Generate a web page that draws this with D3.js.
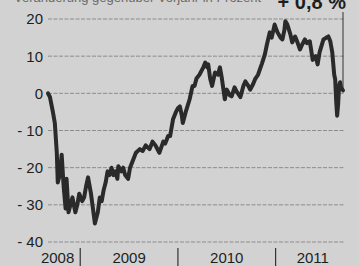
<!DOCTYPE html>
<html>
<head>
<meta charset="utf-8">
<script src="https://cdn.jsdelivr.net/npm/d3@7"></script>
<style>
  body { margin: 0; background: #d2d2d2; }
  svg { display: block; font-family: "Liberation Sans", Arial, sans-serif; }
</style>
</head>
<body>
<div id="chart"></div>
<script>
// time as decimal years, value in percent
const times = [
  2008.67, 2008.69, 2008.72, 2008.74, 2008.76, 2008.77, 2008.79, 2008.81, 2008.83, 2008.85,
  2008.86, 2008.88, 2008.90, 2008.92, 2008.95, 2008.97, 2008.99, 2009.02, 2009.04, 2009.06,
  2009.08, 2009.11, 2009.13, 2009.15, 2009.18, 2009.20, 2009.22, 2009.24, 2009.26, 2009.28,
  2009.30, 2009.32, 2009.34, 2009.36, 2009.38, 2009.39, 2009.42, 2009.44, 2009.46, 2009.49,
  2009.51, 2009.54, 2009.57, 2009.61, 2009.64, 2009.67, 2009.71, 2009.74, 2009.77, 2009.81,
  2009.85, 2009.87, 2009.90, 2009.92, 2009.95, 2009.98, 2010.00, 2010.02, 2010.04, 2010.05,
  2010.08, 2010.12, 2010.15, 2010.17, 2010.19, 2010.22, 2010.26, 2010.28, 2010.30, 2010.31,
  2010.33, 2010.35, 2010.38, 2010.41, 2010.43, 2010.45, 2010.48, 2010.50, 2010.51, 2010.53,
  2010.55, 2010.58, 2010.60, 2010.64, 2010.67, 2010.69, 2010.72, 2010.74, 2010.77, 2010.79,
  2010.82, 2010.84, 2010.86, 2010.89, 2010.91, 2010.94, 2010.96, 2010.99, 2011.01, 2011.02,
  2011.05, 2011.07, 2011.09, 2011.10, 2011.12, 2011.13, 2011.15, 2011.17, 2011.20, 2011.22,
  2011.25, 2011.27, 2011.30, 2011.32, 2011.35, 2011.38, 2011.41, 2011.43, 2011.45, 2011.49,
  2011.52, 2011.54, 2011.56, 2011.58, 2011.60, 2011.61, 2011.62, 2011.63, 2011.64, 2011.65,
  2011.66, 2011.67, 2011.69
];
const values = [
  0, -1, -5, -8, -16, -24, -22, -16.5, -25, -31,
  -23, -32, -30, -28, -32, -30, -27, -29, -28, -25,
  -22.6, -27, -31, -35, -32, -28, -29, -26, -24, -21,
  -22, -20, -22, -21, -23, -19.6, -21, -20, -22, -23,
  -20, -18, -16, -15, -15.5, -14, -15, -13, -14, -16,
  -13, -13.5, -11.5, -11.5, -7, -5, -4, -3.5, -6, -8,
  -5, -1.6, 2, 2, 4, 5, 7, 8.3, 7, 7.8,
  4, 2, 5.6, 5, 7, 4, -1.6, 1, 0.5, -0.5,
  -0.8, 1.6, 0.5, -1, 2, 3.2, 2, 1, 2.5, 3.8,
  5, 6.5, 8, 10.5, 13, 16.4, 15, 18.5, 17, 16.4,
  15, 14.5, 17, 19.4, 18.5, 17.7, 16, 13.7, 15.3, 14,
  11.8, 13, 14.5, 13.5, 14, 9, 10, 7.8, 11, 14.5,
  15, 15.3, 14, 11, 5, 3.8, -2, -6, -3, 2,
  3, 1.5, 0.8
];
const yTicks = [20, 10, 0, -10, -20, -30, -40];
const years = [2008, 2009, 2010, 2011];
const lastLabel = "+ 0,8 %";
const titleText = "Veränderung gegenüber Vorjahr in Prozent";

const width = 359, height = 266;
const margin = { top: 19, right: 16, bottom: 24, left: 48 };

const svg = d3.select('#chart').append('svg')
    .attr('width', width)
    .attr('height', height);

svg.append('rect')
    .attr('width', width)
    .attr('height', height)
    .attr('fill', '#d2d2d2');

const x = d3.scaleLinear()
    .domain([times[0], times[times.length - 1]])
    .range([margin.left, width - margin.right]);

const y = d3.scaleLinear()
    .domain([-40, 20])
    .range([height - margin.bottom, margin.top]);

// heading, cut off at the top edge as in the print
svg.append('text')
    .attr('x', 14)
    .attr('y', 2)
    .attr('font-size', 13)
    .attr('fill', '#6a6a6a')
    .text(titleText);

// grid lines
svg.append('g')
    .selectAll('line')
    .data(yTicks)
    .join('line')
    .attr('x1', margin.left)
    .attr('x2', width - margin.right + 2)
    .attr('y1', d => y(d))
    .attr('y2', d => y(d))
    .attr('stroke', '#8c8c8c')
    .attr('stroke-width', 1)
    .attr('stroke-dasharray', '4,1.5');

// y labels
svg.append('g')
    .selectAll('text')
    .data(yTicks)
    .join('text')
    .attr('x', margin.left - 5)
    .attr('y', d => y(d))
    .attr('dy', '0.36em')
    .attr('text-anchor', 'end')
    .attr('font-size', 15)
    .attr('fill', '#1e1e1e')
    .text(d => d < 0 ? '- ' + Math.abs(d) : d);

// year dividers and labels
const xLo = x.range()[0] - 13, xHi = x.range()[1] + 7;
svg.append('g')
    .selectAll('line')
    .data(years.slice(1))
    .join('line')
    .attr('x1', d => x(d))
    .attr('x2', d => x(d))
    .attr('y1', height - 18)
    .attr('y2', height)
    .attr('stroke', '#333')
    .attr('stroke-width', 1.2);

svg.append('g')
    .selectAll('text')
    .data(years)
    .join('text')
    .attr('x', d => (Math.max(xLo, x(d)) + Math.min(xHi, x(d + 1))) / 2)
    .attr('y', height - 3)
    .attr('text-anchor', 'middle')
    .attr('font-size', 15)
    .attr('fill', '#1e1e1e')
    .text(d => d);

// callout line to last value
const lastX = x(times[times.length - 1]);
svg.append('line')
    .attr('x1', lastX)
    .attr('x2', lastX)
    .attr('y1', 12)
    .attr('y2', y(values[values.length - 1]))
    .attr('stroke', '#333')
    .attr('stroke-width', 1);

svg.append('text')
    .attr('x', lastX + 3)
    .attr('y', 9)
    .attr('text-anchor', 'end')
    .attr('font-size', 20)
    .attr('font-weight', 'bold')
    .attr('fill', '#1e1e1e')
    .text(lastLabel);

// data line
const line = d3.line()
    .x((d, i) => x(times[i]))
    .y(d => y(d));

svg.append('path')
    .datum(values)
    .attr('fill', 'none')
    .attr('stroke', '#2a2a2a')
    .attr('stroke-width', 4)
    .attr('stroke-linejoin', 'round')
    .attr('stroke-linecap', 'round')
    .attr('d', line);
</script>
</body>
</html>
